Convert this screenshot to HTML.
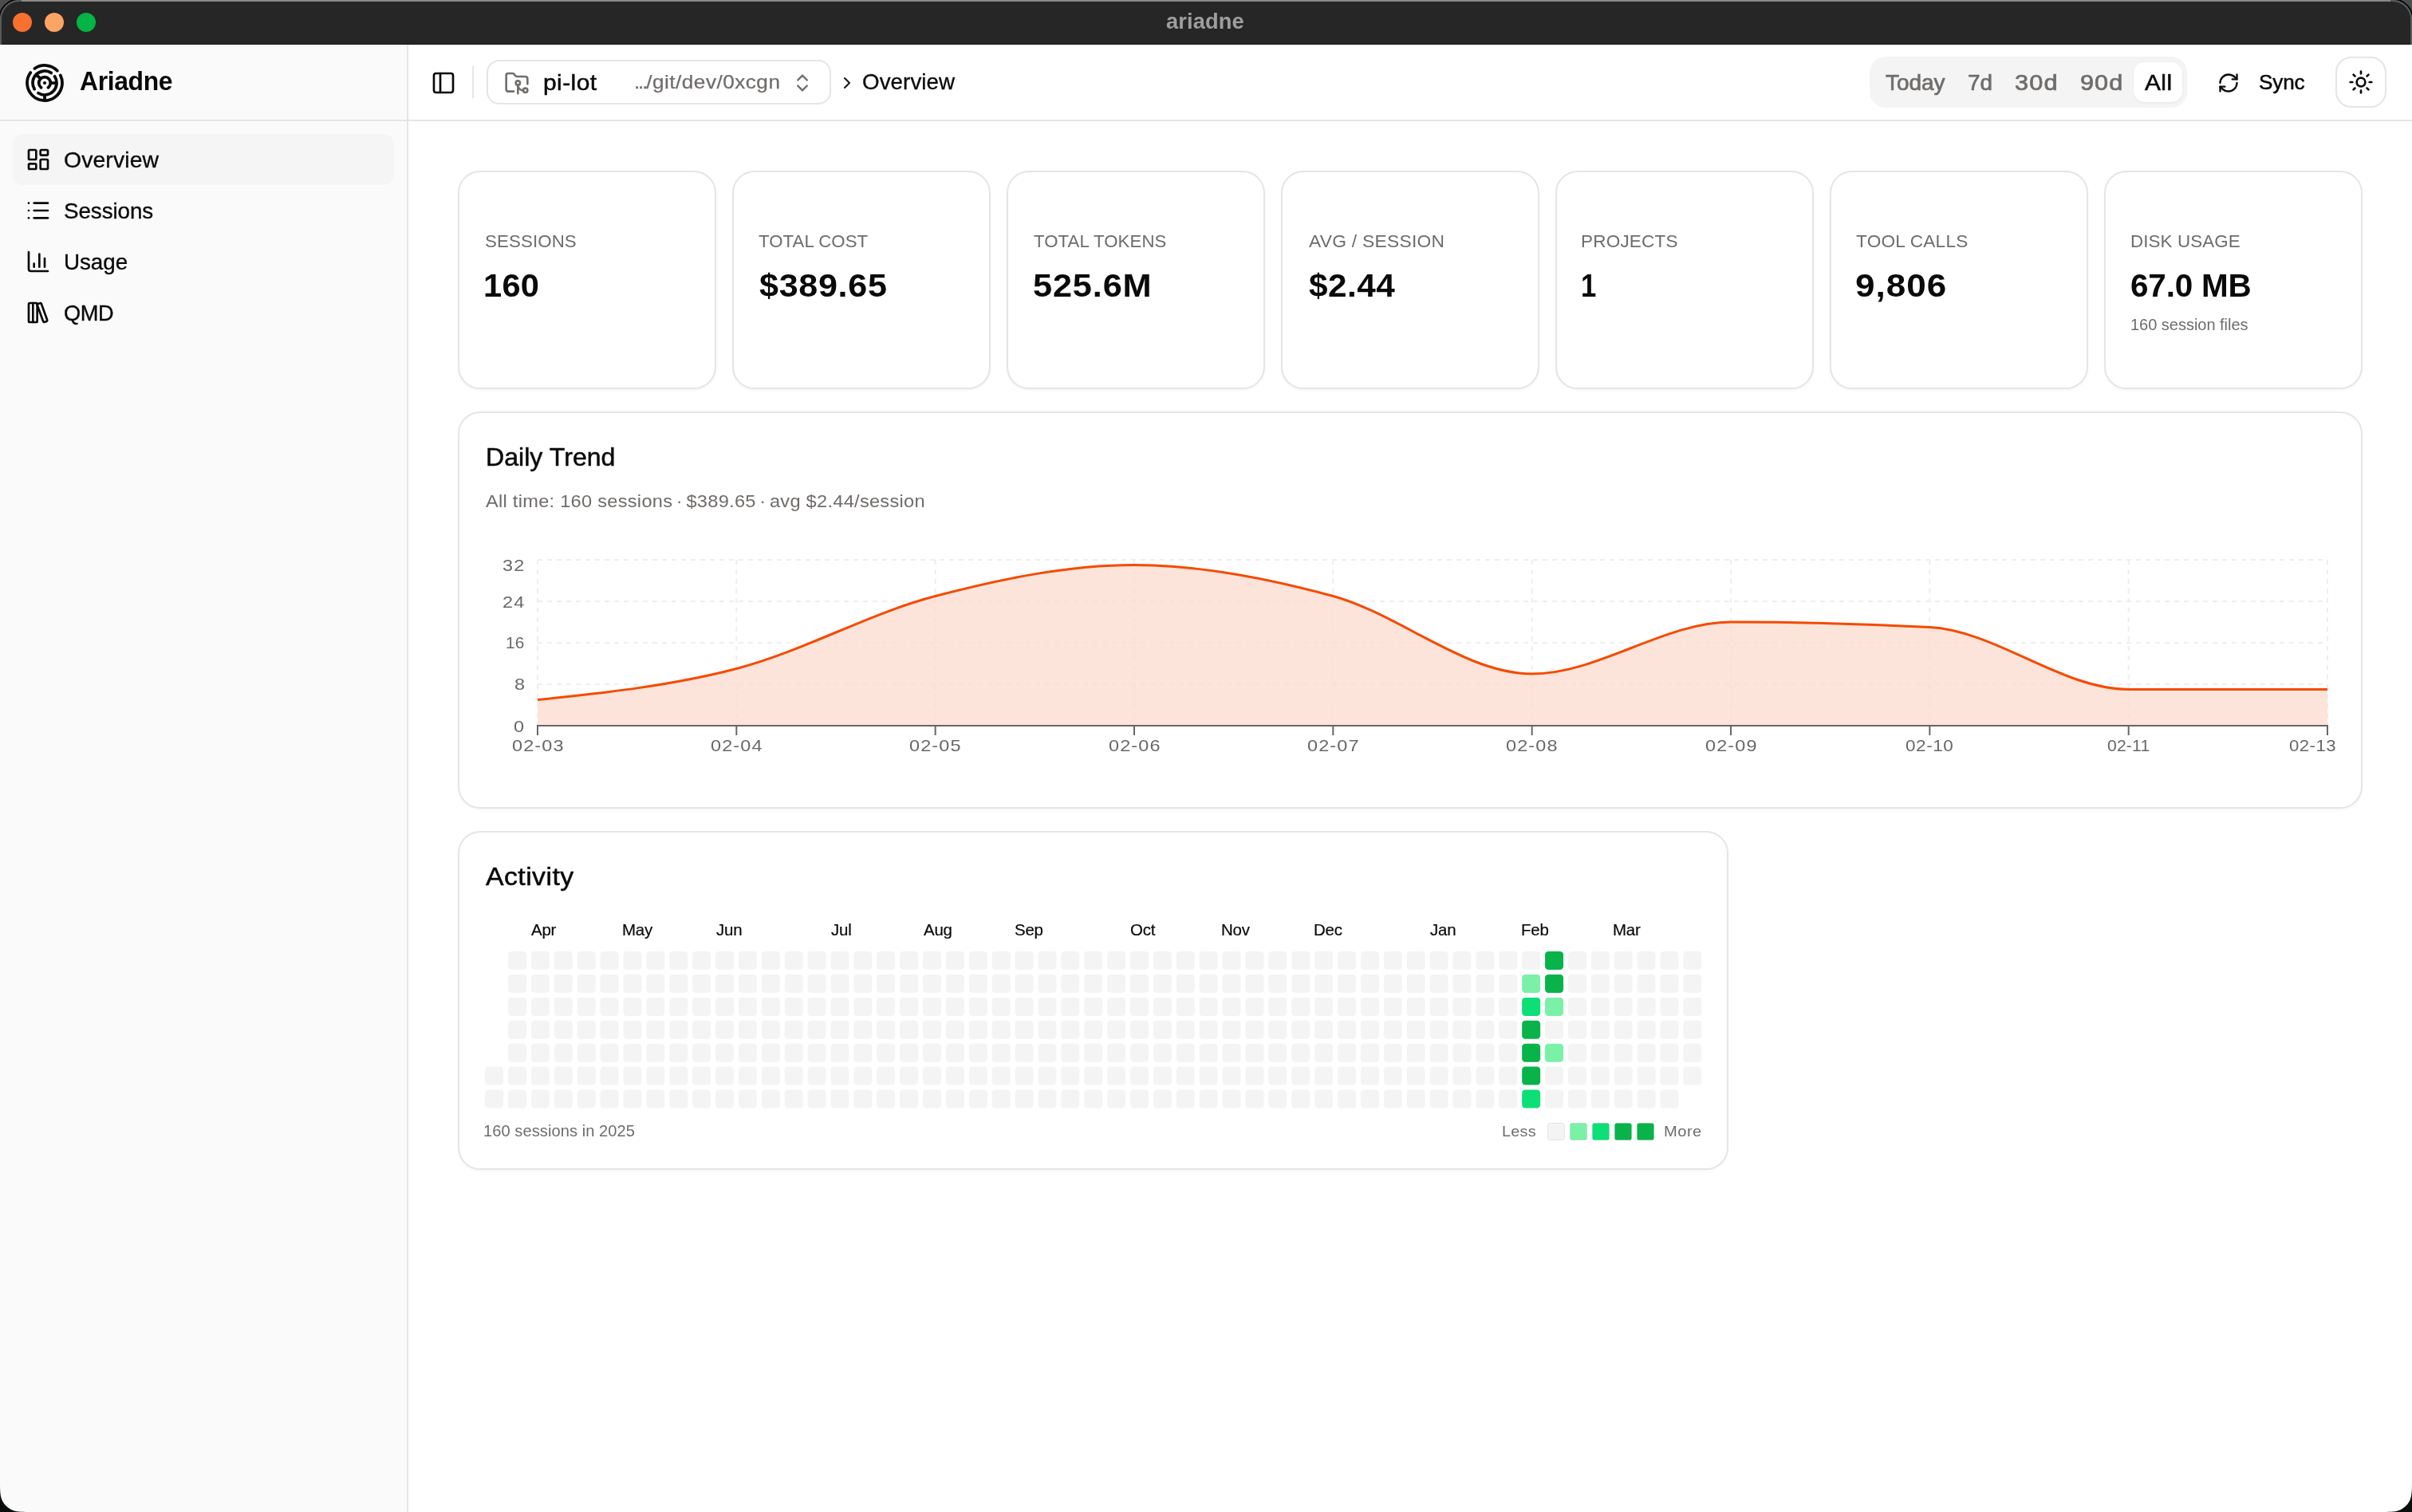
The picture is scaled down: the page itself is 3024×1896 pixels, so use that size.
<!DOCTYPE html>
<html><head><meta charset="utf-8"><title>ariadne</title><style>
html,body{margin:0;padding:0}
body{width:3024px;height:1896px;position:relative;overflow:hidden;background:#0c0e0e;font-family:"Liberation Sans",sans-serif;color:#0a0a0a}
.a{position:absolute;display:block}
.t{position:absolute;white-space:pre;line-height:1;transform-origin:0 0}
#txt{position:absolute;left:0;top:0;width:3024px;height:1896px;will-change:transform}
#win{position:absolute;left:0;top:0;width:3024px;height:1896px;overflow:hidden;background:#fff}
.card{position:absolute;box-sizing:border-box;background:#fff;border:2px solid #e5e5e5;border-radius:28px;box-shadow:0 2px 3px rgba(0,0,0,0.035)}
</style></head><body><div id="win">
<svg class="a" style="left:0;top:0" width="3024" height="56" viewBox="0 0 3024 56">
<rect width="3024" height="56" fill="#4b4c4e"/>
<path d="M-1 60V24A25 25 0 0 1 24 -1H3000A25 25 0 0 1 3025 24V60Z" fill="#58595b" stroke="#030303" stroke-width="1.7"/>
<rect x="27" y="0" width="2970" height="2" fill="#8b8886"/>
<path d="M2 56V24A22 22 0 0 1 24 2H3000A22 22 0 0 1 3022 24V56Z" fill="#262626"/>
<rect x="2" y="55" width="3020" height="1" fill="#171717"/>
<circle cx="28" cy="28" r="12" fill="#f8702f"/><circle cx="68" cy="28" r="12" fill="#fca463"/><circle cx="108" cy="28" r="12" fill="#05b446"/>
</svg>
<div class="a" style="left:0;top:56px;width:510px;height:1840px;background:#fafafa"></div>
<div class="a" style="left:510px;top:56px;width:2px;height:1840px;background:#e5e5e5"></div>
<div class="a" style="left:0;top:150px;width:3024px;height:2px;background:#e5e5e5"></div>
<svg class="a" style="left:32px;top:80px" width="48" height="48" viewBox="0 0 48 48" fill="none" stroke="#0a0a0a" stroke-width="3.75" stroke-linecap="round"><path d="M19.51 29.75A7.3 7.3 0 1 1 28.49 29.75M11.14 31.73A15 15 0 0 1 32.17 11.42M36.58 15.83A15 15 0 0 1 16.05 36.72M11.38 5.98A22 22 0 0 1 39.83 8.72M43.77 14.36A22 22 0 1 1 6.20 11.07M18.84 18.84L13.39 13.39M31.30 24.00L39.00 24.00M24.00 39.00L24.00 46.00"/><circle cx="24" cy="24" r="2.1" fill="#0a0a0a" stroke="none"/></svg>
<div class="a" style="left:16px;top:168px;width:478px;height:64px;border-radius:13px;background:#f5f5f5"></div>
<svg class="a" style="left:32px;top:184px" width="32" height="32" viewBox="0 0 24 24" fill="none" stroke="#0a0a0a" stroke-width="2" stroke-linecap="round" stroke-linejoin="round"><rect width="7" height="9" x="3" y="3" rx="1"/><rect width="7" height="5" x="14" y="3" rx="1"/><rect width="7" height="9" x="14" y="12" rx="1"/><rect width="7" height="5" x="3" y="16" rx="1"/></svg>
<svg class="a" style="left:32px;top:248px" width="32" height="32" viewBox="0 0 24 24" fill="none" stroke="#0a0a0a" stroke-width="2" stroke-linecap="round" stroke-linejoin="round"><path d="M3 5h.01"/><path d="M3 12h.01"/><path d="M3 19h.01"/><path d="M8 5h13"/><path d="M8 12h13"/><path d="M8 19h13"/></svg>
<svg class="a" style="left:32px;top:312px" width="32" height="32" viewBox="0 0 24 24" fill="none" stroke="#0a0a0a" stroke-width="2" stroke-linecap="round" stroke-linejoin="round"><path d="M3 3v16a2 2 0 0 0 2 2h16"/><path d="M18 17V9"/><path d="M13 17V5"/><path d="M8 17v-3"/></svg>
<svg class="a" style="left:32px;top:376px" width="32" height="32" viewBox="0 0 24 24" fill="none" stroke="#0a0a0a" stroke-width="2" stroke-linecap="round" stroke-linejoin="round"><rect width="8" height="18" x="3" y="3" rx="1"/><path d="M7 3v18"/><path d="M20.4 18.9c.2.5-.1 1.1-.6 1.3l-1.9.7c-.5.2-1.1-.1-1.3-.6L11.1 5.1c-.2-.5.1-1.1.6-1.3l1.9-.7c.5-.2 1.1.1 1.3.6Z"/></svg>
<svg class="a" style="left:540px;top:88px" width="32" height="32" viewBox="0 0 24 24" fill="none" stroke="#0a0a0a" stroke-width="2" stroke-linecap="round" stroke-linejoin="round"><rect width="18" height="18" x="3" y="3" rx="2"/><path d="M9 3v18"/></svg>
<div class="a" style="left:592px;top:83px;width:2px;height:40px;background:#e5e5e5"></div>
<div class="a" style="left:610px;top:75px;width:432px;height:56px;box-sizing:border-box;border:2px solid #e5e5e5;border-radius:16px;background:#fff"></div>
<svg class="a" style="left:632px;top:88px" width="32" height="32" viewBox="0 0 24 24" fill="none" stroke="#736f6c" stroke-width="2" stroke-linecap="round" stroke-linejoin="round"><path d="M9 20H4a2 2 0 0 1-2-2V5a2 2 0 0 1 2-2h3.9a2 2 0 0 1 1.69.9l.81 1.2a2 2 0 0 0 1.67.9H20a2 2 0 0 1 2 2v5"/><circle cx="13" cy="12" r="2"/><path d="M18 19c-2.8 0-5-2.2-5-5v8"/><circle cx="20" cy="19" r="2"/></svg>
<svg class="a" style="left:992px;top:90px" width="28" height="28" viewBox="0 0 24 24" fill="none" stroke="#6e6a67" stroke-width="2" stroke-linecap="round" stroke-linejoin="round"><path d="m7 15 5 5 5-5"/><path d="m7 9 5-5 5 5"/></svg>
<svg class="a" style="left:1050px;top:92px" width="24" height="24" viewBox="0 0 24 24" fill="none" stroke="#141414" stroke-width="2" stroke-linecap="round" stroke-linejoin="round"><path d="m9 18 6-6-6-6"/></svg>
<div class="a" style="left:2344px;top:71px;width:398px;height:64px;border-radius:20px;background:#f4f4f4"></div>
<div class="a" style="left:2675px;top:78px;width:61px;height:50px;border-radius:14px;background:#fff;box-shadow:0 1px 3px rgba(0,0,0,0.06)"></div>
<svg class="a" style="left:2780px;top:90px" width="28" height="28" viewBox="0 0 24 24" fill="none" stroke="#0a0a0a" stroke-width="2" stroke-linecap="round" stroke-linejoin="round"><path d="M3 12a9 9 0 0 1 9-9 9.75 9.75 0 0 1 6.74 2.74L21 8"/><path d="M21 3v5h-5"/><path d="M21 12a9 9 0 0 1-9 9 9.75 9.75 0 0 1-6.74-2.74L3 16"/><path d="M8 16H3v5"/></svg>
<div class="a" style="left:2928px;top:71px;width:64px;height:64px;box-sizing:border-box;border:2px solid #e5e5e5;border-radius:20px;background:#fff"></div>
<svg class="a" style="left:2944px;top:87px" width="32" height="32" viewBox="0 0 24 24" fill="none" stroke="#0a0a0a" stroke-width="2" stroke-linecap="round" stroke-linejoin="round"><circle cx="12" cy="12" r="4"/><path d="M12 2v2"/><path d="M12 20v2"/><path d="m4.93 4.93 1.41 1.41"/><path d="m17.66 17.66 1.41 1.41"/><path d="M2 12h2"/><path d="M20 12h2"/><path d="m6.34 17.66-1.41 1.41"/><path d="m19.07 4.93-1.41 1.41"/></svg>
<div class="card" style="left:574px;top:214px;width:324px;height:274px"></div>
<div class="card" style="left:918px;top:214px;width:324px;height:274px"></div>
<div class="card" style="left:1262px;top:214px;width:324px;height:274px"></div>
<div class="card" style="left:1606px;top:214px;width:324px;height:274px"></div>
<div class="card" style="left:1950px;top:214px;width:324px;height:274px"></div>
<div class="card" style="left:2294px;top:214px;width:324px;height:274px"></div>
<div class="card" style="left:2638px;top:214px;width:324px;height:274px"></div>
<div class="card" style="left:574px;top:516px;width:2388px;height:498px"></div>
<div class="card" style="left:574px;top:1042px;width:1593px;height:425px"></div>
<svg class="a" style="left:0;top:0" width="3024" height="1896" viewBox="0 0 3024 1896"><g stroke="#eeeeee" stroke-width="2" stroke-dasharray="6 6" fill="none"><path d="M674 702H2918"/><path d="M674 754H2918"/><path d="M674 806H2918"/><path d="M674 858H2918"/><path d="M674.00 702V910"/><path d="M923.33 702V910"/><path d="M1172.67 702V910"/><path d="M1422.00 702V910"/><path d="M1671.33 702V910"/><path d="M1920.67 702V910"/><path d="M2170.00 702V910"/><path d="M2419.33 702V910"/><path d="M2668.67 702V910"/><path d="M2918.00 702V910"/></g><path d="M674.00 877.50C757.11 868.83 840.22 860.17 923.33 838.50C1006.44 816.83 1089.56 769.17 1172.67 747.50C1255.78 725.83 1338.89 708.50 1422.00 708.50C1505.11 708.50 1588.22 724.75 1671.33 747.50C1754.44 770.25 1837.56 845.00 1920.67 845.00C2003.78 845.00 2086.89 780.00 2170.00 780.00C2253.11 780.00 2336.22 782.17 2419.33 786.50C2502.44 790.83 2585.56 864.50 2668.67 864.50C2751.78 864.50 2834.89 864.50 2918.00 864.50L2918 910L674 910Z" fill="#fcdccf" fill-opacity="0.78"/><path d="M674.00 877.50C757.11 868.83 840.22 860.17 923.33 838.50C1006.44 816.83 1089.56 769.17 1172.67 747.50C1255.78 725.83 1338.89 708.50 1422.00 708.50C1505.11 708.50 1588.22 724.75 1671.33 747.50C1754.44 770.25 1837.56 845.00 1920.67 845.00C2003.78 845.00 2086.89 780.00 2170.00 780.00C2253.11 780.00 2336.22 782.17 2419.33 786.50C2502.44 790.83 2585.56 864.50 2668.67 864.50C2751.78 864.50 2834.89 864.50 2918.00 864.50" fill="none" stroke="#f54a00" stroke-width="3"/><g stroke="#666" stroke-width="2" fill="none"><path d="M673 910H2919"/><path d="M674.00 910V922"/><path d="M923.33 910V922"/><path d="M1172.67 910V922"/><path d="M1422.00 910V922"/><path d="M1671.33 910V922"/><path d="M1920.67 910V922"/><path d="M2170.00 910V922"/><path d="M2419.33 910V922"/><path d="M2668.67 910V922"/><path d="M2918.00 910V922"/></g></svg>
<svg class="a" style="left:0;top:0" width="3024" height="1896" viewBox="0 0 3024 1896"><g fill="#f4f4f4"><rect x="608.10" y="1337.55" width="23" height="23" rx="4.2"/><rect x="608.10" y="1366.44" width="23" height="23" rx="4.2"/><rect x="636.99" y="1193.10" width="23" height="23" rx="4.2"/><rect x="636.99" y="1221.99" width="23" height="23" rx="4.2"/><rect x="636.99" y="1250.88" width="23" height="23" rx="4.2"/><rect x="636.99" y="1279.77" width="23" height="23" rx="4.2"/><rect x="636.99" y="1308.66" width="23" height="23" rx="4.2"/><rect x="636.99" y="1337.55" width="23" height="23" rx="4.2"/><rect x="636.99" y="1366.44" width="23" height="23" rx="4.2"/><rect x="665.88" y="1193.10" width="23" height="23" rx="4.2"/><rect x="665.88" y="1221.99" width="23" height="23" rx="4.2"/><rect x="665.88" y="1250.88" width="23" height="23" rx="4.2"/><rect x="665.88" y="1279.77" width="23" height="23" rx="4.2"/><rect x="665.88" y="1308.66" width="23" height="23" rx="4.2"/><rect x="665.88" y="1337.55" width="23" height="23" rx="4.2"/><rect x="665.88" y="1366.44" width="23" height="23" rx="4.2"/><rect x="694.77" y="1193.10" width="23" height="23" rx="4.2"/><rect x="694.77" y="1221.99" width="23" height="23" rx="4.2"/><rect x="694.77" y="1250.88" width="23" height="23" rx="4.2"/><rect x="694.77" y="1279.77" width="23" height="23" rx="4.2"/><rect x="694.77" y="1308.66" width="23" height="23" rx="4.2"/><rect x="694.77" y="1337.55" width="23" height="23" rx="4.2"/><rect x="694.77" y="1366.44" width="23" height="23" rx="4.2"/><rect x="723.66" y="1193.10" width="23" height="23" rx="4.2"/><rect x="723.66" y="1221.99" width="23" height="23" rx="4.2"/><rect x="723.66" y="1250.88" width="23" height="23" rx="4.2"/><rect x="723.66" y="1279.77" width="23" height="23" rx="4.2"/><rect x="723.66" y="1308.66" width="23" height="23" rx="4.2"/><rect x="723.66" y="1337.55" width="23" height="23" rx="4.2"/><rect x="723.66" y="1366.44" width="23" height="23" rx="4.2"/><rect x="752.55" y="1193.10" width="23" height="23" rx="4.2"/><rect x="752.55" y="1221.99" width="23" height="23" rx="4.2"/><rect x="752.55" y="1250.88" width="23" height="23" rx="4.2"/><rect x="752.55" y="1279.77" width="23" height="23" rx="4.2"/><rect x="752.55" y="1308.66" width="23" height="23" rx="4.2"/><rect x="752.55" y="1337.55" width="23" height="23" rx="4.2"/><rect x="752.55" y="1366.44" width="23" height="23" rx="4.2"/><rect x="781.44" y="1193.10" width="23" height="23" rx="4.2"/><rect x="781.44" y="1221.99" width="23" height="23" rx="4.2"/><rect x="781.44" y="1250.88" width="23" height="23" rx="4.2"/><rect x="781.44" y="1279.77" width="23" height="23" rx="4.2"/><rect x="781.44" y="1308.66" width="23" height="23" rx="4.2"/><rect x="781.44" y="1337.55" width="23" height="23" rx="4.2"/><rect x="781.44" y="1366.44" width="23" height="23" rx="4.2"/><rect x="810.33" y="1193.10" width="23" height="23" rx="4.2"/><rect x="810.33" y="1221.99" width="23" height="23" rx="4.2"/><rect x="810.33" y="1250.88" width="23" height="23" rx="4.2"/><rect x="810.33" y="1279.77" width="23" height="23" rx="4.2"/><rect x="810.33" y="1308.66" width="23" height="23" rx="4.2"/><rect x="810.33" y="1337.55" width="23" height="23" rx="4.2"/><rect x="810.33" y="1366.44" width="23" height="23" rx="4.2"/><rect x="839.22" y="1193.10" width="23" height="23" rx="4.2"/><rect x="839.22" y="1221.99" width="23" height="23" rx="4.2"/><rect x="839.22" y="1250.88" width="23" height="23" rx="4.2"/><rect x="839.22" y="1279.77" width="23" height="23" rx="4.2"/><rect x="839.22" y="1308.66" width="23" height="23" rx="4.2"/><rect x="839.22" y="1337.55" width="23" height="23" rx="4.2"/><rect x="839.22" y="1366.44" width="23" height="23" rx="4.2"/><rect x="868.11" y="1193.10" width="23" height="23" rx="4.2"/><rect x="868.11" y="1221.99" width="23" height="23" rx="4.2"/><rect x="868.11" y="1250.88" width="23" height="23" rx="4.2"/><rect x="868.11" y="1279.77" width="23" height="23" rx="4.2"/><rect x="868.11" y="1308.66" width="23" height="23" rx="4.2"/><rect x="868.11" y="1337.55" width="23" height="23" rx="4.2"/><rect x="868.11" y="1366.44" width="23" height="23" rx="4.2"/><rect x="897.00" y="1193.10" width="23" height="23" rx="4.2"/><rect x="897.00" y="1221.99" width="23" height="23" rx="4.2"/><rect x="897.00" y="1250.88" width="23" height="23" rx="4.2"/><rect x="897.00" y="1279.77" width="23" height="23" rx="4.2"/><rect x="897.00" y="1308.66" width="23" height="23" rx="4.2"/><rect x="897.00" y="1337.55" width="23" height="23" rx="4.2"/><rect x="897.00" y="1366.44" width="23" height="23" rx="4.2"/><rect x="925.89" y="1193.10" width="23" height="23" rx="4.2"/><rect x="925.89" y="1221.99" width="23" height="23" rx="4.2"/><rect x="925.89" y="1250.88" width="23" height="23" rx="4.2"/><rect x="925.89" y="1279.77" width="23" height="23" rx="4.2"/><rect x="925.89" y="1308.66" width="23" height="23" rx="4.2"/><rect x="925.89" y="1337.55" width="23" height="23" rx="4.2"/><rect x="925.89" y="1366.44" width="23" height="23" rx="4.2"/><rect x="954.78" y="1193.10" width="23" height="23" rx="4.2"/><rect x="954.78" y="1221.99" width="23" height="23" rx="4.2"/><rect x="954.78" y="1250.88" width="23" height="23" rx="4.2"/><rect x="954.78" y="1279.77" width="23" height="23" rx="4.2"/><rect x="954.78" y="1308.66" width="23" height="23" rx="4.2"/><rect x="954.78" y="1337.55" width="23" height="23" rx="4.2"/><rect x="954.78" y="1366.44" width="23" height="23" rx="4.2"/><rect x="983.67" y="1193.10" width="23" height="23" rx="4.2"/><rect x="983.67" y="1221.99" width="23" height="23" rx="4.2"/><rect x="983.67" y="1250.88" width="23" height="23" rx="4.2"/><rect x="983.67" y="1279.77" width="23" height="23" rx="4.2"/><rect x="983.67" y="1308.66" width="23" height="23" rx="4.2"/><rect x="983.67" y="1337.55" width="23" height="23" rx="4.2"/><rect x="983.67" y="1366.44" width="23" height="23" rx="4.2"/><rect x="1012.56" y="1193.10" width="23" height="23" rx="4.2"/><rect x="1012.56" y="1221.99" width="23" height="23" rx="4.2"/><rect x="1012.56" y="1250.88" width="23" height="23" rx="4.2"/><rect x="1012.56" y="1279.77" width="23" height="23" rx="4.2"/><rect x="1012.56" y="1308.66" width="23" height="23" rx="4.2"/><rect x="1012.56" y="1337.55" width="23" height="23" rx="4.2"/><rect x="1012.56" y="1366.44" width="23" height="23" rx="4.2"/><rect x="1041.45" y="1193.10" width="23" height="23" rx="4.2"/><rect x="1041.45" y="1221.99" width="23" height="23" rx="4.2"/><rect x="1041.45" y="1250.88" width="23" height="23" rx="4.2"/><rect x="1041.45" y="1279.77" width="23" height="23" rx="4.2"/><rect x="1041.45" y="1308.66" width="23" height="23" rx="4.2"/><rect x="1041.45" y="1337.55" width="23" height="23" rx="4.2"/><rect x="1041.45" y="1366.44" width="23" height="23" rx="4.2"/><rect x="1070.34" y="1193.10" width="23" height="23" rx="4.2"/><rect x="1070.34" y="1221.99" width="23" height="23" rx="4.2"/><rect x="1070.34" y="1250.88" width="23" height="23" rx="4.2"/><rect x="1070.34" y="1279.77" width="23" height="23" rx="4.2"/><rect x="1070.34" y="1308.66" width="23" height="23" rx="4.2"/><rect x="1070.34" y="1337.55" width="23" height="23" rx="4.2"/><rect x="1070.34" y="1366.44" width="23" height="23" rx="4.2"/><rect x="1099.23" y="1193.10" width="23" height="23" rx="4.2"/><rect x="1099.23" y="1221.99" width="23" height="23" rx="4.2"/><rect x="1099.23" y="1250.88" width="23" height="23" rx="4.2"/><rect x="1099.23" y="1279.77" width="23" height="23" rx="4.2"/><rect x="1099.23" y="1308.66" width="23" height="23" rx="4.2"/><rect x="1099.23" y="1337.55" width="23" height="23" rx="4.2"/><rect x="1099.23" y="1366.44" width="23" height="23" rx="4.2"/><rect x="1128.12" y="1193.10" width="23" height="23" rx="4.2"/><rect x="1128.12" y="1221.99" width="23" height="23" rx="4.2"/><rect x="1128.12" y="1250.88" width="23" height="23" rx="4.2"/><rect x="1128.12" y="1279.77" width="23" height="23" rx="4.2"/><rect x="1128.12" y="1308.66" width="23" height="23" rx="4.2"/><rect x="1128.12" y="1337.55" width="23" height="23" rx="4.2"/><rect x="1128.12" y="1366.44" width="23" height="23" rx="4.2"/><rect x="1157.01" y="1193.10" width="23" height="23" rx="4.2"/><rect x="1157.01" y="1221.99" width="23" height="23" rx="4.2"/><rect x="1157.01" y="1250.88" width="23" height="23" rx="4.2"/><rect x="1157.01" y="1279.77" width="23" height="23" rx="4.2"/><rect x="1157.01" y="1308.66" width="23" height="23" rx="4.2"/><rect x="1157.01" y="1337.55" width="23" height="23" rx="4.2"/><rect x="1157.01" y="1366.44" width="23" height="23" rx="4.2"/><rect x="1185.90" y="1193.10" width="23" height="23" rx="4.2"/><rect x="1185.90" y="1221.99" width="23" height="23" rx="4.2"/><rect x="1185.90" y="1250.88" width="23" height="23" rx="4.2"/><rect x="1185.90" y="1279.77" width="23" height="23" rx="4.2"/><rect x="1185.90" y="1308.66" width="23" height="23" rx="4.2"/><rect x="1185.90" y="1337.55" width="23" height="23" rx="4.2"/><rect x="1185.90" y="1366.44" width="23" height="23" rx="4.2"/><rect x="1214.79" y="1193.10" width="23" height="23" rx="4.2"/><rect x="1214.79" y="1221.99" width="23" height="23" rx="4.2"/><rect x="1214.79" y="1250.88" width="23" height="23" rx="4.2"/><rect x="1214.79" y="1279.77" width="23" height="23" rx="4.2"/><rect x="1214.79" y="1308.66" width="23" height="23" rx="4.2"/><rect x="1214.79" y="1337.55" width="23" height="23" rx="4.2"/><rect x="1214.79" y="1366.44" width="23" height="23" rx="4.2"/><rect x="1243.68" y="1193.10" width="23" height="23" rx="4.2"/><rect x="1243.68" y="1221.99" width="23" height="23" rx="4.2"/><rect x="1243.68" y="1250.88" width="23" height="23" rx="4.2"/><rect x="1243.68" y="1279.77" width="23" height="23" rx="4.2"/><rect x="1243.68" y="1308.66" width="23" height="23" rx="4.2"/><rect x="1243.68" y="1337.55" width="23" height="23" rx="4.2"/><rect x="1243.68" y="1366.44" width="23" height="23" rx="4.2"/><rect x="1272.57" y="1193.10" width="23" height="23" rx="4.2"/><rect x="1272.57" y="1221.99" width="23" height="23" rx="4.2"/><rect x="1272.57" y="1250.88" width="23" height="23" rx="4.2"/><rect x="1272.57" y="1279.77" width="23" height="23" rx="4.2"/><rect x="1272.57" y="1308.66" width="23" height="23" rx="4.2"/><rect x="1272.57" y="1337.55" width="23" height="23" rx="4.2"/><rect x="1272.57" y="1366.44" width="23" height="23" rx="4.2"/><rect x="1301.46" y="1193.10" width="23" height="23" rx="4.2"/><rect x="1301.46" y="1221.99" width="23" height="23" rx="4.2"/><rect x="1301.46" y="1250.88" width="23" height="23" rx="4.2"/><rect x="1301.46" y="1279.77" width="23" height="23" rx="4.2"/><rect x="1301.46" y="1308.66" width="23" height="23" rx="4.2"/><rect x="1301.46" y="1337.55" width="23" height="23" rx="4.2"/><rect x="1301.46" y="1366.44" width="23" height="23" rx="4.2"/><rect x="1330.35" y="1193.10" width="23" height="23" rx="4.2"/><rect x="1330.35" y="1221.99" width="23" height="23" rx="4.2"/><rect x="1330.35" y="1250.88" width="23" height="23" rx="4.2"/><rect x="1330.35" y="1279.77" width="23" height="23" rx="4.2"/><rect x="1330.35" y="1308.66" width="23" height="23" rx="4.2"/><rect x="1330.35" y="1337.55" width="23" height="23" rx="4.2"/><rect x="1330.35" y="1366.44" width="23" height="23" rx="4.2"/><rect x="1359.24" y="1193.10" width="23" height="23" rx="4.2"/><rect x="1359.24" y="1221.99" width="23" height="23" rx="4.2"/><rect x="1359.24" y="1250.88" width="23" height="23" rx="4.2"/><rect x="1359.24" y="1279.77" width="23" height="23" rx="4.2"/><rect x="1359.24" y="1308.66" width="23" height="23" rx="4.2"/><rect x="1359.24" y="1337.55" width="23" height="23" rx="4.2"/><rect x="1359.24" y="1366.44" width="23" height="23" rx="4.2"/><rect x="1388.13" y="1193.10" width="23" height="23" rx="4.2"/><rect x="1388.13" y="1221.99" width="23" height="23" rx="4.2"/><rect x="1388.13" y="1250.88" width="23" height="23" rx="4.2"/><rect x="1388.13" y="1279.77" width="23" height="23" rx="4.2"/><rect x="1388.13" y="1308.66" width="23" height="23" rx="4.2"/><rect x="1388.13" y="1337.55" width="23" height="23" rx="4.2"/><rect x="1388.13" y="1366.44" width="23" height="23" rx="4.2"/><rect x="1417.02" y="1193.10" width="23" height="23" rx="4.2"/><rect x="1417.02" y="1221.99" width="23" height="23" rx="4.2"/><rect x="1417.02" y="1250.88" width="23" height="23" rx="4.2"/><rect x="1417.02" y="1279.77" width="23" height="23" rx="4.2"/><rect x="1417.02" y="1308.66" width="23" height="23" rx="4.2"/><rect x="1417.02" y="1337.55" width="23" height="23" rx="4.2"/><rect x="1417.02" y="1366.44" width="23" height="23" rx="4.2"/><rect x="1445.91" y="1193.10" width="23" height="23" rx="4.2"/><rect x="1445.91" y="1221.99" width="23" height="23" rx="4.2"/><rect x="1445.91" y="1250.88" width="23" height="23" rx="4.2"/><rect x="1445.91" y="1279.77" width="23" height="23" rx="4.2"/><rect x="1445.91" y="1308.66" width="23" height="23" rx="4.2"/><rect x="1445.91" y="1337.55" width="23" height="23" rx="4.2"/><rect x="1445.91" y="1366.44" width="23" height="23" rx="4.2"/><rect x="1474.80" y="1193.10" width="23" height="23" rx="4.2"/><rect x="1474.80" y="1221.99" width="23" height="23" rx="4.2"/><rect x="1474.80" y="1250.88" width="23" height="23" rx="4.2"/><rect x="1474.80" y="1279.77" width="23" height="23" rx="4.2"/><rect x="1474.80" y="1308.66" width="23" height="23" rx="4.2"/><rect x="1474.80" y="1337.55" width="23" height="23" rx="4.2"/><rect x="1474.80" y="1366.44" width="23" height="23" rx="4.2"/><rect x="1503.69" y="1193.10" width="23" height="23" rx="4.2"/><rect x="1503.69" y="1221.99" width="23" height="23" rx="4.2"/><rect x="1503.69" y="1250.88" width="23" height="23" rx="4.2"/><rect x="1503.69" y="1279.77" width="23" height="23" rx="4.2"/><rect x="1503.69" y="1308.66" width="23" height="23" rx="4.2"/><rect x="1503.69" y="1337.55" width="23" height="23" rx="4.2"/><rect x="1503.69" y="1366.44" width="23" height="23" rx="4.2"/><rect x="1532.58" y="1193.10" width="23" height="23" rx="4.2"/><rect x="1532.58" y="1221.99" width="23" height="23" rx="4.2"/><rect x="1532.58" y="1250.88" width="23" height="23" rx="4.2"/><rect x="1532.58" y="1279.77" width="23" height="23" rx="4.2"/><rect x="1532.58" y="1308.66" width="23" height="23" rx="4.2"/><rect x="1532.58" y="1337.55" width="23" height="23" rx="4.2"/><rect x="1532.58" y="1366.44" width="23" height="23" rx="4.2"/><rect x="1561.47" y="1193.10" width="23" height="23" rx="4.2"/><rect x="1561.47" y="1221.99" width="23" height="23" rx="4.2"/><rect x="1561.47" y="1250.88" width="23" height="23" rx="4.2"/><rect x="1561.47" y="1279.77" width="23" height="23" rx="4.2"/><rect x="1561.47" y="1308.66" width="23" height="23" rx="4.2"/><rect x="1561.47" y="1337.55" width="23" height="23" rx="4.2"/><rect x="1561.47" y="1366.44" width="23" height="23" rx="4.2"/><rect x="1590.36" y="1193.10" width="23" height="23" rx="4.2"/><rect x="1590.36" y="1221.99" width="23" height="23" rx="4.2"/><rect x="1590.36" y="1250.88" width="23" height="23" rx="4.2"/><rect x="1590.36" y="1279.77" width="23" height="23" rx="4.2"/><rect x="1590.36" y="1308.66" width="23" height="23" rx="4.2"/><rect x="1590.36" y="1337.55" width="23" height="23" rx="4.2"/><rect x="1590.36" y="1366.44" width="23" height="23" rx="4.2"/><rect x="1619.25" y="1193.10" width="23" height="23" rx="4.2"/><rect x="1619.25" y="1221.99" width="23" height="23" rx="4.2"/><rect x="1619.25" y="1250.88" width="23" height="23" rx="4.2"/><rect x="1619.25" y="1279.77" width="23" height="23" rx="4.2"/><rect x="1619.25" y="1308.66" width="23" height="23" rx="4.2"/><rect x="1619.25" y="1337.55" width="23" height="23" rx="4.2"/><rect x="1619.25" y="1366.44" width="23" height="23" rx="4.2"/><rect x="1648.14" y="1193.10" width="23" height="23" rx="4.2"/><rect x="1648.14" y="1221.99" width="23" height="23" rx="4.2"/><rect x="1648.14" y="1250.88" width="23" height="23" rx="4.2"/><rect x="1648.14" y="1279.77" width="23" height="23" rx="4.2"/><rect x="1648.14" y="1308.66" width="23" height="23" rx="4.2"/><rect x="1648.14" y="1337.55" width="23" height="23" rx="4.2"/><rect x="1648.14" y="1366.44" width="23" height="23" rx="4.2"/><rect x="1677.03" y="1193.10" width="23" height="23" rx="4.2"/><rect x="1677.03" y="1221.99" width="23" height="23" rx="4.2"/><rect x="1677.03" y="1250.88" width="23" height="23" rx="4.2"/><rect x="1677.03" y="1279.77" width="23" height="23" rx="4.2"/><rect x="1677.03" y="1308.66" width="23" height="23" rx="4.2"/><rect x="1677.03" y="1337.55" width="23" height="23" rx="4.2"/><rect x="1677.03" y="1366.44" width="23" height="23" rx="4.2"/><rect x="1705.92" y="1193.10" width="23" height="23" rx="4.2"/><rect x="1705.92" y="1221.99" width="23" height="23" rx="4.2"/><rect x="1705.92" y="1250.88" width="23" height="23" rx="4.2"/><rect x="1705.92" y="1279.77" width="23" height="23" rx="4.2"/><rect x="1705.92" y="1308.66" width="23" height="23" rx="4.2"/><rect x="1705.92" y="1337.55" width="23" height="23" rx="4.2"/><rect x="1705.92" y="1366.44" width="23" height="23" rx="4.2"/><rect x="1734.81" y="1193.10" width="23" height="23" rx="4.2"/><rect x="1734.81" y="1221.99" width="23" height="23" rx="4.2"/><rect x="1734.81" y="1250.88" width="23" height="23" rx="4.2"/><rect x="1734.81" y="1279.77" width="23" height="23" rx="4.2"/><rect x="1734.81" y="1308.66" width="23" height="23" rx="4.2"/><rect x="1734.81" y="1337.55" width="23" height="23" rx="4.2"/><rect x="1734.81" y="1366.44" width="23" height="23" rx="4.2"/><rect x="1763.70" y="1193.10" width="23" height="23" rx="4.2"/><rect x="1763.70" y="1221.99" width="23" height="23" rx="4.2"/><rect x="1763.70" y="1250.88" width="23" height="23" rx="4.2"/><rect x="1763.70" y="1279.77" width="23" height="23" rx="4.2"/><rect x="1763.70" y="1308.66" width="23" height="23" rx="4.2"/><rect x="1763.70" y="1337.55" width="23" height="23" rx="4.2"/><rect x="1763.70" y="1366.44" width="23" height="23" rx="4.2"/><rect x="1792.59" y="1193.10" width="23" height="23" rx="4.2"/><rect x="1792.59" y="1221.99" width="23" height="23" rx="4.2"/><rect x="1792.59" y="1250.88" width="23" height="23" rx="4.2"/><rect x="1792.59" y="1279.77" width="23" height="23" rx="4.2"/><rect x="1792.59" y="1308.66" width="23" height="23" rx="4.2"/><rect x="1792.59" y="1337.55" width="23" height="23" rx="4.2"/><rect x="1792.59" y="1366.44" width="23" height="23" rx="4.2"/><rect x="1821.48" y="1193.10" width="23" height="23" rx="4.2"/><rect x="1821.48" y="1221.99" width="23" height="23" rx="4.2"/><rect x="1821.48" y="1250.88" width="23" height="23" rx="4.2"/><rect x="1821.48" y="1279.77" width="23" height="23" rx="4.2"/><rect x="1821.48" y="1308.66" width="23" height="23" rx="4.2"/><rect x="1821.48" y="1337.55" width="23" height="23" rx="4.2"/><rect x="1821.48" y="1366.44" width="23" height="23" rx="4.2"/><rect x="1850.37" y="1193.10" width="23" height="23" rx="4.2"/><rect x="1850.37" y="1221.99" width="23" height="23" rx="4.2"/><rect x="1850.37" y="1250.88" width="23" height="23" rx="4.2"/><rect x="1850.37" y="1279.77" width="23" height="23" rx="4.2"/><rect x="1850.37" y="1308.66" width="23" height="23" rx="4.2"/><rect x="1850.37" y="1337.55" width="23" height="23" rx="4.2"/><rect x="1850.37" y="1366.44" width="23" height="23" rx="4.2"/><rect x="1879.26" y="1193.10" width="23" height="23" rx="4.2"/><rect x="1879.26" y="1221.99" width="23" height="23" rx="4.2"/><rect x="1879.26" y="1250.88" width="23" height="23" rx="4.2"/><rect x="1879.26" y="1279.77" width="23" height="23" rx="4.2"/><rect x="1879.26" y="1308.66" width="23" height="23" rx="4.2"/><rect x="1879.26" y="1337.55" width="23" height="23" rx="4.2"/><rect x="1879.26" y="1366.44" width="23" height="23" rx="4.2"/><rect x="1908.15" y="1193.10" width="23" height="23" rx="4.2"/><rect x="1937.04" y="1279.77" width="23" height="23" rx="4.2"/><rect x="1937.04" y="1337.55" width="23" height="23" rx="4.2"/><rect x="1937.04" y="1366.44" width="23" height="23" rx="4.2"/><rect x="1965.93" y="1193.10" width="23" height="23" rx="4.2"/><rect x="1965.93" y="1221.99" width="23" height="23" rx="4.2"/><rect x="1965.93" y="1250.88" width="23" height="23" rx="4.2"/><rect x="1965.93" y="1279.77" width="23" height="23" rx="4.2"/><rect x="1965.93" y="1308.66" width="23" height="23" rx="4.2"/><rect x="1965.93" y="1337.55" width="23" height="23" rx="4.2"/><rect x="1965.93" y="1366.44" width="23" height="23" rx="4.2"/><rect x="1994.82" y="1193.10" width="23" height="23" rx="4.2"/><rect x="1994.82" y="1221.99" width="23" height="23" rx="4.2"/><rect x="1994.82" y="1250.88" width="23" height="23" rx="4.2"/><rect x="1994.82" y="1279.77" width="23" height="23" rx="4.2"/><rect x="1994.82" y="1308.66" width="23" height="23" rx="4.2"/><rect x="1994.82" y="1337.55" width="23" height="23" rx="4.2"/><rect x="1994.82" y="1366.44" width="23" height="23" rx="4.2"/><rect x="2023.71" y="1193.10" width="23" height="23" rx="4.2"/><rect x="2023.71" y="1221.99" width="23" height="23" rx="4.2"/><rect x="2023.71" y="1250.88" width="23" height="23" rx="4.2"/><rect x="2023.71" y="1279.77" width="23" height="23" rx="4.2"/><rect x="2023.71" y="1308.66" width="23" height="23" rx="4.2"/><rect x="2023.71" y="1337.55" width="23" height="23" rx="4.2"/><rect x="2023.71" y="1366.44" width="23" height="23" rx="4.2"/><rect x="2052.60" y="1193.10" width="23" height="23" rx="4.2"/><rect x="2052.60" y="1221.99" width="23" height="23" rx="4.2"/><rect x="2052.60" y="1250.88" width="23" height="23" rx="4.2"/><rect x="2052.60" y="1279.77" width="23" height="23" rx="4.2"/><rect x="2052.60" y="1308.66" width="23" height="23" rx="4.2"/><rect x="2052.60" y="1337.55" width="23" height="23" rx="4.2"/><rect x="2052.60" y="1366.44" width="23" height="23" rx="4.2"/><rect x="2081.49" y="1193.10" width="23" height="23" rx="4.2"/><rect x="2081.49" y="1221.99" width="23" height="23" rx="4.2"/><rect x="2081.49" y="1250.88" width="23" height="23" rx="4.2"/><rect x="2081.49" y="1279.77" width="23" height="23" rx="4.2"/><rect x="2081.49" y="1308.66" width="23" height="23" rx="4.2"/><rect x="2081.49" y="1337.55" width="23" height="23" rx="4.2"/><rect x="2081.49" y="1366.44" width="23" height="23" rx="4.2"/><rect x="2110.38" y="1193.10" width="23" height="23" rx="4.2"/><rect x="2110.38" y="1221.99" width="23" height="23" rx="4.2"/><rect x="2110.38" y="1250.88" width="23" height="23" rx="4.2"/><rect x="2110.38" y="1279.77" width="23" height="23" rx="4.2"/><rect x="2110.38" y="1308.66" width="23" height="23" rx="4.2"/><rect x="2110.38" y="1337.55" width="23" height="23" rx="4.2"/></g><g fill="#7bf1a8"><rect x="1908.15" y="1221.99" width="23" height="23" rx="4.2"/><rect x="1937.04" y="1250.88" width="23" height="23" rx="4.2"/><rect x="1937.04" y="1308.66" width="23" height="23" rx="4.2"/></g><g fill="#0cdf76"><rect x="1908.15" y="1250.88" width="23" height="23" rx="4.2"/><rect x="1908.15" y="1366.44" width="23" height="23" rx="4.2"/></g><g fill="#08b34a"><rect x="1908.15" y="1279.77" width="23" height="23" rx="4.2"/><rect x="1908.15" y="1308.66" width="23" height="23" rx="4.2"/><rect x="1908.15" y="1337.55" width="23" height="23" rx="4.2"/><rect x="1937.04" y="1193.10" width="23" height="23" rx="4.2"/><rect x="1937.04" y="1221.99" width="23" height="23" rx="4.2"/></g><rect x="1940.5" y="1408.5" width="21" height="21" rx="2.6" fill="#f4f4f4" stroke="rgba(0,0,0,0.08)" stroke-width="1"/><rect x="1968.5" y="1408.5" width="21" height="21" rx="2.6" fill="#7bf1a8" stroke="rgba(0,0,0,0.08)" stroke-width="1"/><rect x="1996.5" y="1408.5" width="21" height="21" rx="2.6" fill="#0cdf76" stroke="rgba(0,0,0,0.08)" stroke-width="1"/><rect x="2024.5" y="1408.5" width="21" height="21" rx="2.6" fill="#08b34a" stroke="rgba(0,0,0,0.08)" stroke-width="1"/><rect x="2052.5" y="1408.5" width="21" height="21" rx="2.6" fill="#08b34a" stroke="rgba(0,0,0,0.08)" stroke-width="1"/></svg>
<div id="txt"><span class="t" style="left:1461.69px;top:13.8px;font-size:27px;font-weight:700;color:#9e9e9e;letter-spacing:0.087px;transform:scaleX(1.0104);">ariadne</span>
<span class="t" style="left:99.73px;top:84.9px;font-size:33px;font-weight:700;letter-spacing:-0.38px;transform:scaleX(0.9662);">Ariadne</span>
<span class="t" style="left:79.89px;top:186.8px;font-size:28px;letter-spacing:0.114px;transform:scaleX(1.0129);-webkit-text-stroke:0.35px #0a0a0a;">Overview</span>
<span class="t" style="left:80.31px;top:250.8px;font-size:28px;letter-spacing:-0.071px;transform:scaleX(0.9919);-webkit-text-stroke:0.35px #0a0a0a;">Sessions</span>
<span class="t" style="left:79.61px;top:314.8px;font-size:28px;letter-spacing:-0.07px;transform:scaleX(0.9933);-webkit-text-stroke:0.35px #0a0a0a;">Usage</span>
<span class="t" style="left:79.93px;top:378.8px;font-size:28px;letter-spacing:-0.486px;transform:scaleX(0.9721);-webkit-text-stroke:0.35px #0a0a0a;">QMD</span>
<span class="t" style="left:680.53px;top:89.8px;font-size:28px;letter-spacing:0.419px;transform:scaleX(1.0693);-webkit-text-stroke:0.55px #0a0a0a;">pi-lot</span>
<span class="t" style="left:795.02px;top:91.2px;font-size:24px;color:#6f6c6a;letter-spacing:0.442px;transform:scaleX(1.0899);-webkit-text-stroke:0.25px #6f6c6a;"><span style="letter-spacing:-2px">...</span>/git/dev/0xcgn</span>
<span class="t" style="left:1081.39px;top:89.3px;font-size:27.5px;letter-spacing:0.074px;transform:scaleX(1.0086);-webkit-text-stroke:0.3px #0a0a0a;">Overview</span>
<span class="t" style="left:2364.2px;top:89.5px;font-size:28px;color:#6f6c6a;letter-spacing:-0.018px;transform:scaleX(0.9983);-webkit-text-stroke:0.7px #6f6c6a;">Today</span>
<span class="t" style="left:2466.8px;top:89.5px;font-size:28px;color:#6f6c6a;letter-spacing:-0.07px;transform:scaleX(0.9955);-webkit-text-stroke:0.7px #6f6c6a;">7d</span>
<span class="t" style="left:2526.4px;top:89.5px;font-size:28px;color:#6f6c6a;letter-spacing:1.038px;transform:scaleX(1.096);-webkit-text-stroke:0.7px #6f6c6a;">30d</span>
<span class="t" style="left:2607.91px;top:89.5px;font-size:28px;color:#6f6c6a;letter-spacing:1.009px;transform:scaleX(1.0931);-webkit-text-stroke:0.7px #6f6c6a;">90d</span>
<span class="t" style="left:2689.0px;top:89.7px;font-size:28px;letter-spacing:0.477px;transform:scaleX(1.0628);-webkit-text-stroke:0.6px #0a0a0a;">All</span>
<span class="t" style="left:2832.31px;top:90.0px;font-size:26.5px;letter-spacing:-0.142px;transform:scaleX(0.9863);-webkit-text-stroke:0.5px #0a0a0a;">Sync</span>
<span class="t" style="left:607.99px;top:291.7px;font-size:22px;color:#6f6c6a;letter-spacing:0.109px;transform:scaleX(1.013);">SESSIONS</span>
<span class="t" style="left:951.39px;top:291.7px;font-size:22px;color:#6f6c6a;letter-spacing:0.069px;transform:scaleX(1.0087);">TOTAL COST</span>
<span class="t" style="left:1295.69px;top:291.7px;font-size:22px;color:#6f6c6a;letter-spacing:0.079px;transform:scaleX(1.01);">TOTAL TOKENS</span>
<span class="t" style="left:1640.8px;top:291.7px;font-size:22px;color:#6f6c6a;letter-spacing:0.25px;transform:scaleX(1.0364);">AVG / SESSION</span>
<span class="t" style="left:1982.45px;top:291.7px;font-size:22px;color:#6f6c6a;letter-spacing:0.2px;transform:scaleX(1.0234);">PROJECTS</span>
<span class="t" style="left:2327.27px;top:291.7px;font-size:22px;color:#6f6c6a;letter-spacing:0.216px;transform:scaleX(1.0281);">TOOL CALLS</span>
<span class="t" style="left:2670.87px;top:291.7px;font-size:22px;color:#6f6c6a;letter-spacing:0.119px;transform:scaleX(1.0154);">DISK USAGE</span>
<span class="t" style="left:606.25px;top:337.9px;font-size:41px;font-weight:700;letter-spacing:0.259px;transform:scaleX(1.0152);">160</span>
<span class="t" style="left:952.15px;top:337.9px;font-size:41px;font-weight:700;letter-spacing:0.643px;transform:scaleX(1.0516);">$389.65</span>
<span class="t" style="left:1294.58px;top:337.9px;font-size:41px;font-weight:700;letter-spacing:0.774px;transform:scaleX(1.0576);">525.6M</span>
<span class="t" style="left:1640.97px;top:337.9px;font-size:41px;font-weight:700;letter-spacing:0.44px;transform:scaleX(1.0335);">$2.44</span>
<span class="t" style="left:1981.96px;top:337.9px;font-size:41px;font-weight:700;transform:scaleX(0.8474);">1</span>
<span class="t" style="left:2326.15px;top:337.9px;font-size:41px;font-weight:700;letter-spacing:0.92px;transform:scaleX(1.0742);">9,806</span>
<span class="t" style="left:2670.93px;top:337.9px;font-size:41px;font-weight:700;letter-spacing:-0.183px;transform:scaleX(0.9867);">67.0 MB</span>
<span class="t" style="left:2670.9px;top:397.2px;font-size:20px;color:#6f6c6a;letter-spacing:-0.007px;transform:scaleX(0.9987);">160 session files</span>
<span class="t" style="left:608.7px;top:556.8px;font-size:32px;letter-spacing:0.021px;transform:scaleX(1.0025);-webkit-text-stroke:0.5px #0a0a0a;">Daily Trend</span>
<span class="t" style="left:609.1px;top:617.8px;font-size:22.5px;color:#6f6c6a;letter-spacing:0.254px;transform:scaleX(1.0496);">All time: 160 sessions<span style="margin:0 -2.2px"> · </span>$389.65<span style="margin:0 -2.2px"> · </span>avg $2.44/session</span>
<span class="t" style="left:630.31px;top:698.7px;font-size:20.6px;color:#6a6867;letter-spacing:0.978px;transform:scaleX(1.14);">32</span>
<span class="t" style="left:630.31px;top:744.5px;font-size:20.6px;color:#6a6867;letter-spacing:0.978px;transform:scaleX(1.14);">24</span>
<span class="t" style="left:645.1px;top:848.2px;font-size:20.6px;color:#6a6867;letter-spacing:0.978px;transform:scaleX(1.14);">8</span>
<span class="t" style="left:643.96px;top:900.6px;font-size:20.6px;color:#6a6867;letter-spacing:0.978px;transform:scaleX(1.14);">0</span>
<span class="t" style="left:634.07px;top:796.3px;font-size:20.6px;color:#6a6867;letter-spacing:0.138px;transform:scaleX(1.013);">16</span>
<span class="t" style="left:641.56px;top:924.7px;font-size:20.6px;color:#6a6867;letter-spacing:0.978px;transform:scaleX(1.14);">02-03</span>
<span class="t" style="left:890.89px;top:924.7px;font-size:20.6px;color:#6a6867;letter-spacing:0.978px;transform:scaleX(1.14);">02-04</span>
<span class="t" style="left:1140.23px;top:924.7px;font-size:20.6px;color:#6a6867;letter-spacing:0.978px;transform:scaleX(1.14);">02-05</span>
<span class="t" style="left:1389.56px;top:924.7px;font-size:20.6px;color:#6a6867;letter-spacing:0.978px;transform:scaleX(1.14);">02-06</span>
<span class="t" style="left:1638.89px;top:924.7px;font-size:20.6px;color:#6a6867;letter-spacing:0.978px;transform:scaleX(1.14);">02-07</span>
<span class="t" style="left:1888.22px;top:924.7px;font-size:20.6px;color:#6a6867;letter-spacing:0.978px;transform:scaleX(1.14);">02-08</span>
<span class="t" style="left:2137.56px;top:924.7px;font-size:20.6px;color:#6a6867;letter-spacing:0.978px;transform:scaleX(1.14);">02-09</span>
<span class="t" style="left:2388.61px;top:924.7px;font-size:20.6px;color:#6a6867;letter-spacing:0.562px;transform:scaleX(1.0892);">02-10</span>
<span class="t" style="left:2641.57px;top:924.7px;font-size:20.6px;color:#6a6867;letter-spacing:0.17px;transform:scaleX(1.0265);">02-11</span>
<span class="t" style="left:2869.93px;top:924.7px;font-size:20.6px;color:#6a6867;letter-spacing:0.473px;transform:scaleX(1.0739);">02-13</span>
<span class="t" style="left:609.1px;top:1082.8px;font-size:32px;letter-spacing:0.416px;transform:scaleX(1.0566);-webkit-text-stroke:0.5px #0a0a0a;">Activity</span>
<span class="t" style="left:666.38px;top:1155.0px;font-size:21px;letter-spacing:-0.233px;transform:scaleX(0.9744);-webkit-text-stroke:0.2px #0a0a0a;">Apr</span>
<span class="t" style="left:779.99px;top:1155.0px;font-size:21px;letter-spacing:-0.233px;transform:scaleX(0.9744);-webkit-text-stroke:0.2px #0a0a0a;">May</span>
<span class="t" style="left:897.5px;top:1155.0px;font-size:21px;letter-spacing:-0.233px;transform:scaleX(0.9744);-webkit-text-stroke:0.2px #0a0a0a;">Jun</span>
<span class="t" style="left:1041.95px;top:1155.0px;font-size:21px;letter-spacing:-0.233px;transform:scaleX(0.9744);-webkit-text-stroke:0.2px #0a0a0a;">Jul</span>
<span class="t" style="left:1157.51px;top:1155.0px;font-size:21px;letter-spacing:-0.233px;transform:scaleX(0.9744);-webkit-text-stroke:0.2px #0a0a0a;">Aug</span>
<span class="t" style="left:1272.1px;top:1155.0px;font-size:21px;letter-spacing:-0.233px;transform:scaleX(0.9744);-webkit-text-stroke:0.2px #0a0a0a;">Sep</span>
<span class="t" style="left:1416.55px;top:1155.0px;font-size:21px;letter-spacing:-0.233px;transform:scaleX(0.9744);-webkit-text-stroke:0.2px #0a0a0a;">Oct</span>
<span class="t" style="left:1531.13px;top:1155.0px;font-size:21px;letter-spacing:-0.233px;transform:scaleX(0.9744);-webkit-text-stroke:0.2px #0a0a0a;">Nov</span>
<span class="t" style="left:1646.69px;top:1155.0px;font-size:21px;letter-spacing:-0.233px;transform:scaleX(0.9744);-webkit-text-stroke:0.2px #0a0a0a;">Dec</span>
<span class="t" style="left:1793.09px;top:1155.0px;font-size:21px;letter-spacing:-0.233px;transform:scaleX(0.9744);-webkit-text-stroke:0.2px #0a0a0a;">Jan</span>
<span class="t" style="left:1906.7px;top:1155.0px;font-size:21px;letter-spacing:-0.233px;transform:scaleX(0.9744);-webkit-text-stroke:0.2px #0a0a0a;">Feb</span>
<span class="t" style="left:2022.26px;top:1155.0px;font-size:21px;letter-spacing:-0.233px;transform:scaleX(0.9744);-webkit-text-stroke:0.2px #0a0a0a;">Mar</span>
<span class="t" style="left:606.37px;top:1409.0px;font-size:19.8px;color:#6f6c6a;letter-spacing:0.073px;transform:scaleX(1.0142);">160 sessions in 2025</span>
<span class="t" style="left:1883.42px;top:1408.5px;font-size:19px;color:#6f6c6a;letter-spacing:0.269px;transform:scaleX(1.0422);">Less</span>
<span class="t" style="left:2086.48px;top:1408.5px;font-size:19px;color:#6f6c6a;letter-spacing:0.418px;transform:scaleX(1.0618);">More</span></div>
<svg class="a" style="left:0;top:0" width="3024" height="1896" viewBox="0 0 3024 1896" fill="#0c0e0e"><path d="M0.00 1856.25C0.00 1867.70 0.00 1873.42 1.95 1879.58C4.40 1886.31 9.69 1891.60 16.42 1894.05C22.58 1896.00 28.30 1896.00 39.75 1896.00L0.00 1896.00Z"/><path d="M3024.00 1856.25C3024.00 1867.70 3024.00 1873.42 3022.05 1879.58C3019.60 1886.31 3014.31 1891.60 3007.58 1894.05C3001.42 1896.00 2995.70 1896.00 2984.25 1896.00L3024.00 1896.00Z"/></svg>
</div></body></html>
